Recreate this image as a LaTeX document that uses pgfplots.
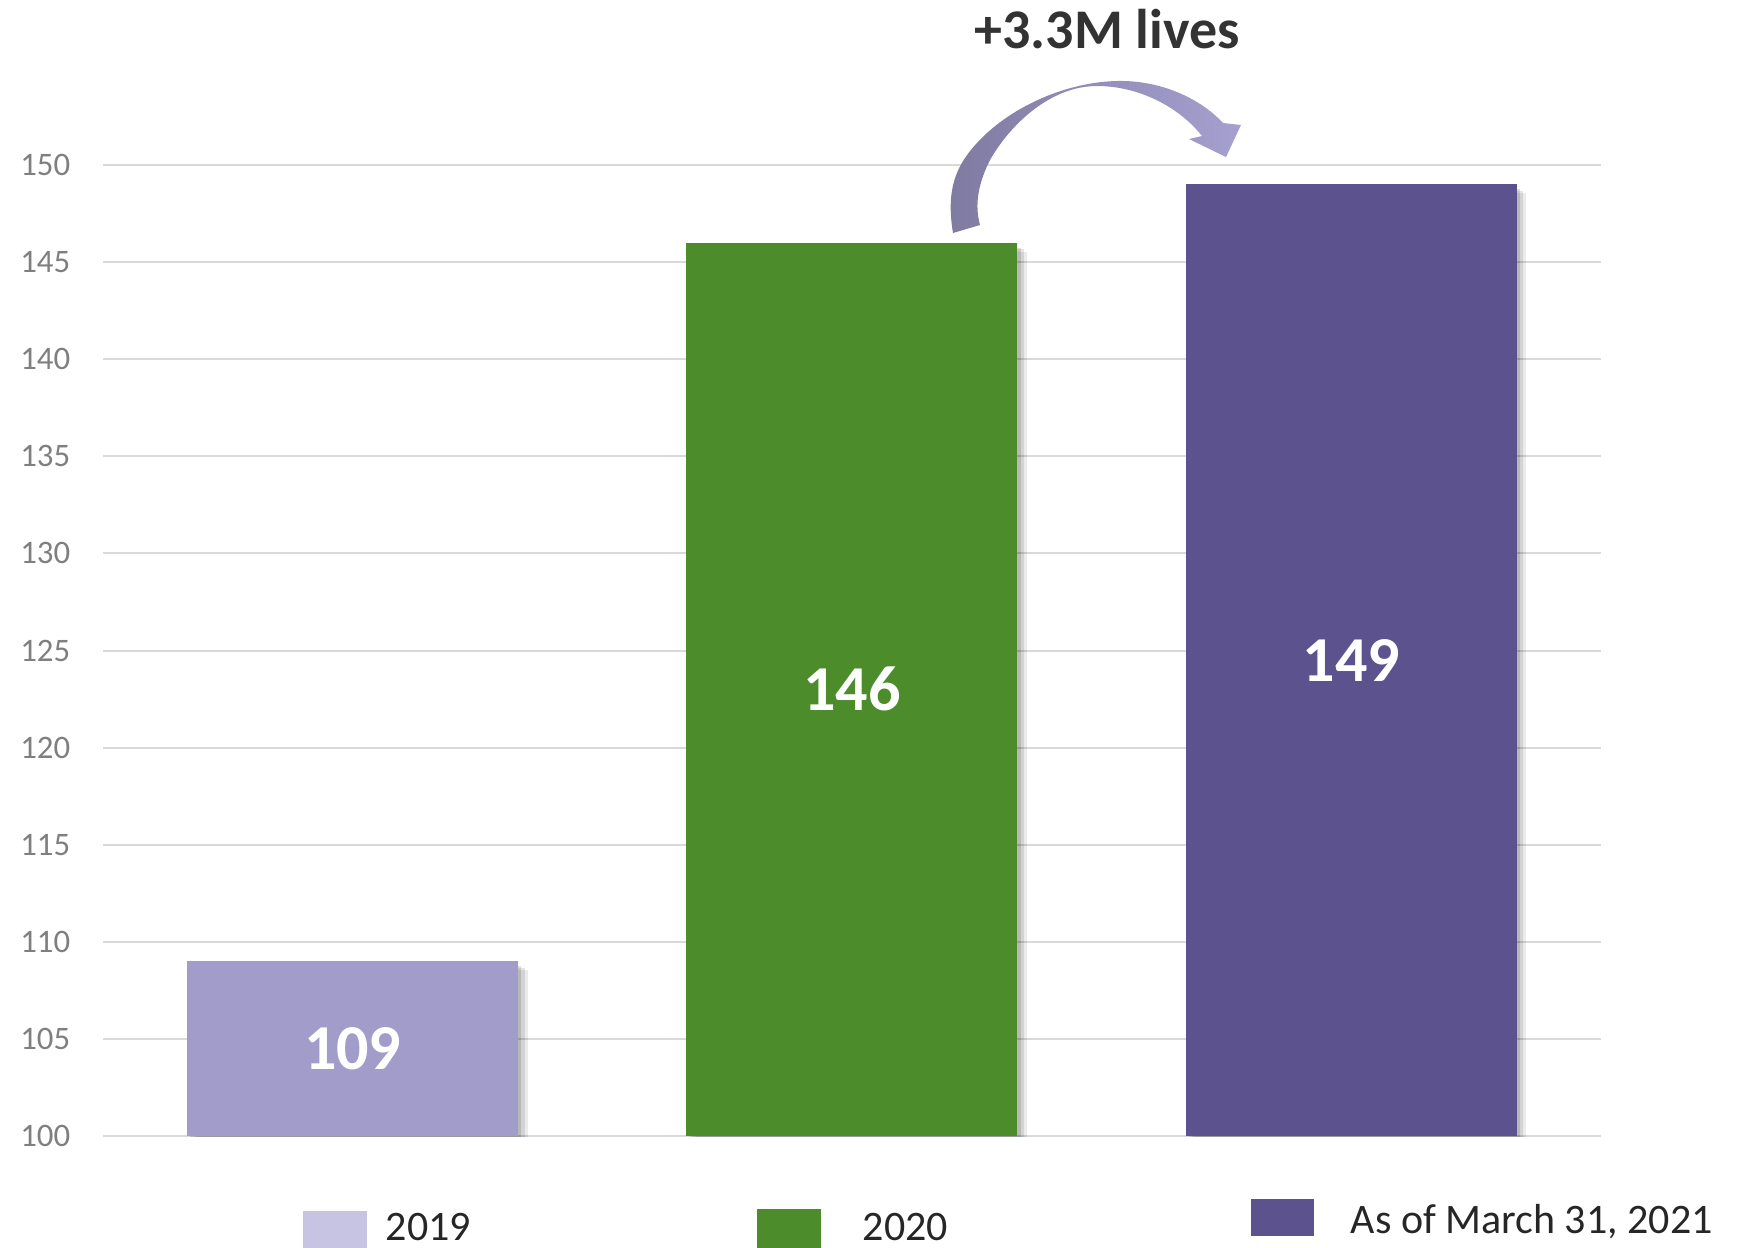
\documentclass[border=0pt]{standalone}
\usepackage{pgfplots}
\pgfplotsset{compat=1.18}
\usepackage{fontspec}
\setmainfont{Carlito}
\definecolor{cA}{HTML}{A29CCB}
\definecolor{cAleg}{HTML}{C7C3E2}
\definecolor{cB}{HTML}{4C8C2B}
\definecolor{cC}{HTML}{5C528D}
\definecolor{gridc}{HTML}{D9D9D9}
\definecolor{tickc}{HTML}{7F7F7F}
\definecolor{txt}{HTML}{262626}
\definecolor{ann}{HTML}{333333}
\definecolor{arrL}{HTML}{7F7AA0}
\definecolor{arrR}{HTML}{A6A0D0}
\tikzset{barshadow/.style={
  preaction={fill=black, opacity=0.08, transform canvas={xshift=2.4pt, yshift=-2.2pt}},
  preaction={fill=black, opacity=0.10, transform canvas={xshift=1.6pt, yshift=-1.6pt}},
  preaction={fill=black, opacity=0.13, transform canvas={xshift=0.8pt, yshift=-1.2pt}}}}
\begin{document}
\begin{tikzpicture}
\path[use as bounding box] (0,0) rectangle (437.25pt,311.75pt);
\begin{axis}[
  at={(25.75pt,27.75pt)}, anchor=south west,
  scale only axis, width=374.5pt, height=242.75pt,
  xmin=-0.5, xmax=2.5, ymin=100, ymax=150,
  axis line style={draw=none},
  major tick style={draw=none},
  clip mode=individual,
  ybar, bar width=82.75pt,
  ytick={100,105,...,150}, xtick=\empty,
  ymajorgrids, grid style={gridc, line width=0.5pt},
  /pgf/number format/assume math mode=true,
  yticklabel style={font=\fontsize{8.2}{8.2}\selectfont, text=tickc, anchor=east, inner sep=0pt},
  yticklabel shift=8pt,
  visualization depends on=y\as\rawy,
  nodes near coords,
  every node near coord/.append style={anchor=center, yshift={-(\rawy-100)*2.4275pt},
     font=\bfseries\fontsize{16}{16}\selectfont, text=white},
]
\addplot[fill=cA, draw=none, bar shift=0pt, barshadow] coordinates {(0,109)};
\addplot[fill=cB, draw=none, bar shift=0pt, barshadow] coordinates {(1,146)};
\addplot[fill=cC, draw=none, bar shift=0pt, barshadow] coordinates {(2,149)};
\end{axis}
\begin{scope}[x=0.25pt, y=-0.25pt, shift={(0,311.75pt)}]
  % curved arrow
  \shade[left color=arrL, right color=arrR, shading angle=90]
    (953,233) .. controls (945,185) and (958,160) .. (987,133)
    .. controls (1020,103) and (1070,82) .. (1117,81)
    .. controls (1160,80) and (1200,98) .. (1223,123)
    -- (1241,125) -- (1226,157) -- (1189,139) -- (1202,136)
    .. controls (1180,108) and (1140,86) .. (1097,86)
    .. controls (1050,86) and (1010,125) .. (990,160)
    .. controls (975,190) and (976,210) .. (980,225) -- cycle;
  \node[text=ann, font=\bfseries\fontsize{14}{14}\selectfont, anchor=base] at (1107,48) {+3.3M lives};
  % legend
  \fill[cAleg] (303,1211) rectangle (367,1260);
  \node[text=txt, font=\fontsize{10.5}{10.5}\selectfont, anchor=base west, inner sep=0pt] at (385,1240) {2019};
  \fill[cB] (757,1209) rectangle (821,1260);
  \node[text=txt, font=\fontsize{10.5}{10.5}\selectfont, anchor=base west, inner sep=0pt] at (862,1240) {2020};
  \fill[cC] (1251,1199) rectangle (1314,1236);
  \node[text=txt, font=\fontsize{10.5}{10.5}\selectfont, anchor=base west, inner sep=0pt] at (1350,1233) {As of March 31, 2021};
\end{scope}
\end{tikzpicture}
\end{document}
